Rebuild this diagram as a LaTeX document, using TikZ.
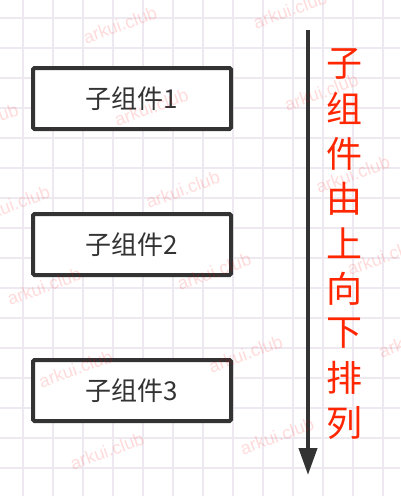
\documentclass[tikz,border=0pt]{standalone}
\usepackage{fontspec}
\setmainfont{Liberation Sans}
\newfontfamily\cjkfont{Noto Sans CJK SC}
\usepackage{tikz}
\usetikzlibrary{arrows.meta}
\definecolor{gridline}{RGB}{238,233,240}
\definecolor{darkline}{RGB}{51,51,51}
\definecolor{hintred}{RGB}{255,38,0}
\tikzset{
  child/.style={draw=darkline, line width=4pt, fill=white, rounded corners=1.5pt,
    minimum width=198pt, minimum height=61pt, inner sep=0pt, text=darkline,
    font=\cjkfont\fontsize{26}{26}\selectfont},
  hint/.style={text=hintred, inner sep=0pt, font=\cjkfont\fontsize{36}{36}\selectfont},
  wmark/.style={text=red, text opacity=0.14, rotate=20, inner sep=0pt,
    font=\fontsize{18}{18}\selectfont}
}

\begin{document}
\begin{tikzpicture}[x=1pt,y=-1pt]
        \useasboundingbox (0,0) rectangle (400,496);
        \clip (0,0) rectangle (400,496);
        \fill[white] (0,0) rectangle (400,496);
        % grid
        \foreach \x in {0,...,12}
        \draw[gridline, line width=2pt] ({23.3+30*\x},0) -- ({23.3+30*\x},496);
        \foreach \y in {0,...,15}
        \draw[gridline, line width=2pt] (0,{18.3+30*\y}) -- (400,{18.3+30*\y});
        % boxes
        \node[child] (sub1) at (132,98.5) {子组件1};
        \node[child] (sub2) at (132,244.5) {子组件2};
        \node[child] (sub3) at (132,390.5) {子组件3};
        % arrow
        \coordinate (top) at (308,30);
        \coordinate (bottom) at (308,475);
        \draw[darkline, line width=4pt, -{Triangle[length=27pt,width=18pt]}] (top) -- (bottom);
        \foreach \c [count=\i] in {子,组,件,由,上,向,下,排,列}
        \node[hint] (ch\i) at (344,{64+44.875*(\i-1)}) {\c};
        % watermark
        \foreach \i in {-1,0,1}
        \foreach \j in {0,...,5}
        \node[wmark] (wm\i\j) at ({120+170*\i+31.4*\j},{25-15*\i+82.2*\j}) {arkui.club};
    \end{tikzpicture}
\end{document}
